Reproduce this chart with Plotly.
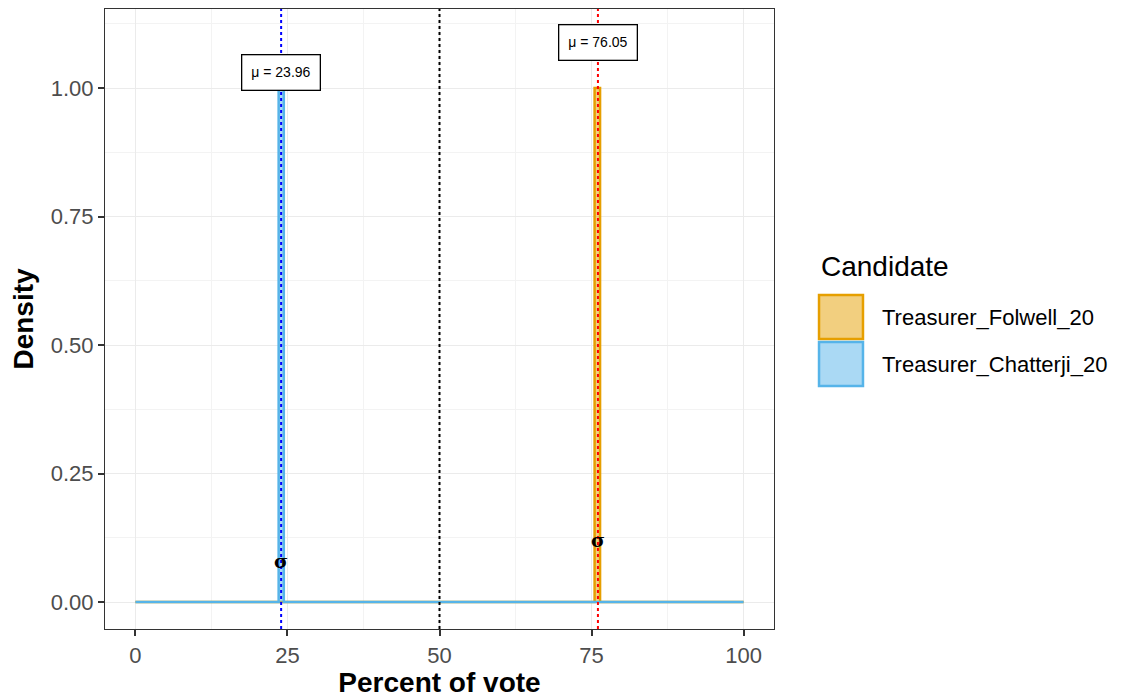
import plotly.graph_objects as go

# ---- data ----
candidates = ["Treasurer_Folwell_20", "Treasurer_Chatterji_20"]
means = [76.05, 23.96]
mean_labels = ["μ = 76.05", "μ = 23.96"]
label_y = [1.089, 1.031]
sigma_y = [0.12, 0.08]
fill_colors = ["rgba(230,159,0,0.5)", "rgba(86,180,233,0.5)"]
line_colors = ["#E69F00", "#56B4E9"]
mean_line_colors = ["#FF0000", "#0000FF"]

# density curves (percent of vote vs density)
folwell_x = [0, 75.5, 75.5, 76.4, 76.4, 100]
folwell_y = [0, 0, 1.0, 1.0, 0, 0]
chatterji_x = [0, 23.55, 23.55, 24.4, 24.4, 100]
chatterji_y = [0, 0, 1.0, 1.0, 0, 0]
curves_x = [folwell_x, chatterji_x]
curves_y = [folwell_y, chatterji_y]

midpoint = 50
x_ticks = [0, 25, 50, 75, 100]
y_ticks = [0, 0.25, 0.5, 0.75, 1.0]
y_tick_labels = ["0.00", "0.25", "0.50", "0.75", "1.00"]

FONT = "Liberation Sans, Arial, Helvetica, sans-serif"

fig = go.Figure()
for i, name in enumerate(candidates):
    fig.add_trace(go.Scatter(
        x=curves_x[i], y=curves_y[i], name=name, mode="lines",
        fill="tozeroy", fillcolor=fill_colors[i],
        line=dict(color=line_colors[i], width=2.5),
        hoverinfo="skip", showlegend=False,
    ))

# vertical reference lines
fig.add_shape(type="line", xref="x", yref="paper", x0=midpoint, x1=midpoint,
              y0=0, y1=1, line=dict(color="black", width=2, dash="dot"))
for i in range(len(candidates)):
    fig.add_shape(type="line", xref="x", yref="paper", x0=means[i], x1=means[i],
                  y0=0, y1=1, line=dict(color=mean_line_colors[i], width=2, dash="dot"))
    fig.add_annotation(x=means[i], y=label_y[i], text=mean_labels[i], showarrow=False,
                       font=dict(family=FONT, size=14, color="black"),
                       bgcolor="white", bordercolor="black", borderwidth=1.3, borderpad=9)
    fig.add_annotation(x=means[i], y=sigma_y[i], text="<b>σ</b>", showarrow=False,
                       font=dict(family="DejaVu Serif, serif", size=19, color="black"))

# ---- legend (ggplot-style keys) ----
LEG_X0, LEG_X1, LEG_TX = 1.0673, 1.1330, 1.1584
key_tops = [0.5387, 0.4629]
key_h = 0.0710
fig.add_annotation(xref="paper", yref="paper", x=LEG_X0, y=0.5839, xanchor="left",
                   yanchor="middle", text="Candidate", showarrow=False,
                   font=dict(family=FONT, size=28, color="black"))
for i, name in enumerate(candidates):
    fig.add_shape(type="rect", xref="paper", yref="paper", x0=LEG_X0, x1=LEG_X1,
                  y0=key_tops[i] - key_h, y1=key_tops[i], fillcolor=fill_colors[i],
                  line=dict(color=line_colors[i], width=2.5))
    fig.add_annotation(xref="paper", yref="paper", x=LEG_TX, y=key_tops[i] - key_h / 2,
                       xanchor="left", yanchor="middle", text=name, showarrow=False,
                       font=dict(family=FONT, size=22, color="black"))

fig.update_layout(
    width=1113, height=690,
    margin=dict(l=97, r=347, t=1, b=69),
    paper_bgcolor="white", plot_bgcolor="white",
    font=dict(family=FONT, color="#4D4D4D"),
    showlegend=False,
)
fig.update_xaxes(
    range=[-5, 105], tickvals=x_ticks, ticks="outside", ticklen=6, tickwidth=1.5,
    tickcolor="#333333", tickfont=dict(size=22, color="#4D4D4D"),
    showgrid=True, gridcolor="#EBEBEB", gridwidth=1.2,
    minor=dict(dtick=12.5, tick0=12.5, showgrid=True, gridcolor="#F3F3F3", gridwidth=0.8),
    showline=True, linecolor="#333333", linewidth=1.2, mirror=True, zeroline=False,
    title=dict(text="<b>Percent of vote</b>", font=dict(size=28, color="black"), standoff=4),
)
fig.update_yaxes(
    range=[-0.0525, 1.1537], tickvals=y_ticks, ticktext=y_tick_labels, ticks="outside",
    ticklen=6, tickwidth=1.5, tickcolor="#333333", tickfont=dict(size=22, color="#4D4D4D"),
    showgrid=True, gridcolor="#EBEBEB", gridwidth=1.2,
    minor=dict(dtick=0.125, tick0=0.125, showgrid=True, gridcolor="#F3F3F3", gridwidth=0.8),
    showline=True, linecolor="#333333", linewidth=1.2, mirror=True, zeroline=False,
    title=dict(text="<b>Density</b>", font=dict(size=28, color="black"), standoff=8),
)

fig.write_html("out.html")
